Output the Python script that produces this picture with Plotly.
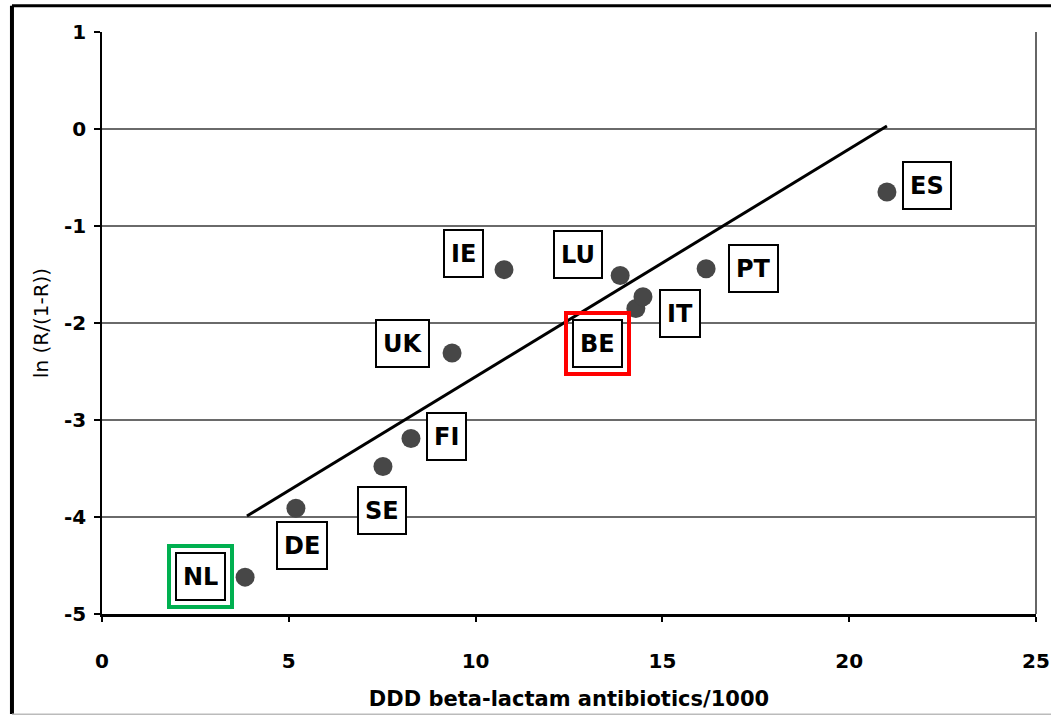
import plotly.graph_objects as go

# ---- data ----
countries = ["NL", "DE", "SE", "FI", "UK", "IE", "LU", "BE", "IT", "PT", "ES"]
ddd = [3.83, 5.19, 7.52, 8.27, 9.37, 10.76, 13.87, 14.29, 14.48, 16.17, 21.01]
logit_r = [-4.62, -3.91, -3.48, -3.19, -2.31, -1.45, -1.51, -1.85, -1.73, -1.44, -0.65]
fit_x = [3.88, 21.01]
fit_y = [-3.99, 0.03]
x_ticks = [0, 5, 10, 15, 20, 25]
y_ticks = [1, 0, -1, -2, -3, -4, -5]

# label offsets (pixels) from each point
label_dx = [-45, 6, -1, 36, -50, -40, -42, -38, 37, 47, 40]
label_dy = [1, -37, -44, 2, 10, 16, 21, -35, -17, 0, 7]
highlight = {"NL": "#00b050", "BE": "#ff0000"}

FONT = "DejaVu Sans"

fig = go.Figure()

fig.add_trace(go.Scatter(
    x=fit_x, y=fit_y, mode="lines",
    line=dict(color="black", width=3), hoverinfo="skip", showlegend=False))

fig.add_trace(go.Scatter(
    x=ddd, y=logit_r, mode="markers",
    marker=dict(color="#474747", size=19, line=dict(width=0)),
    showlegend=False))

for c, x, y, dx, dy in zip(countries, ddd, logit_r, label_dx, label_dy):
    if c in highlight:
        fig.add_annotation(
            x=x, y=y, xref="x", yref="y", showarrow=False,
            xshift=dx, yshift=dy, text=c,
            font=dict(family=FONT, size=24, color="rgba(0,0,0,0)", weight="bold"),
            bgcolor="rgba(0,0,0,0)", bordercolor=highlight[c], borderwidth=4,
            borderpad=12, height=33)
    fig.add_annotation(
        x=x, y=y, xref="x", yref="y", showarrow=False,
        xshift=dx, yshift=dy, text=c,
        font=dict(family=FONT, size=24, color="black", weight="bold"),
        bgcolor="white", bordercolor="black", borderwidth=2,
        borderpad=6, height=33)

# plot right border
fig.add_shape(type="line", xref="paper", yref="paper", x0=1, x1=1, y0=0, y1=1,
              line=dict(color="#666", width=2))
# outer frame
fig.add_shape(type="line", xref="paper", yref="paper", x0=-0.0964, x1=-0.0964,
              y0=-0.172, y1=1.045, line=dict(color="black", width=4))
fig.add_shape(type="line", xref="paper", yref="paper", x0=-0.0964, x1=1.03,
              y0=1.045, y1=1.045, line=dict(color="black", width=3))
fig.add_shape(type="line", xref="paper", yref="paper", x0=-0.0964, x1=1.03,
              y0=-0.1725, y1=-0.1725, line=dict(color="#bbb", width=2))

fig.update_layout(
    width=1051, height=715,
    margin=dict(l=102, r=15, t=32, b=101, autoexpand=False),
    paper_bgcolor="white", plot_bgcolor="white",
    showlegend=False,
    xaxis=dict(
        range=[0, 25], tickvals=x_ticks, ticktext=[str(v) for v in x_ticks],
        showgrid=False, zeroline=False, automargin=False,
        showline=True, linecolor="black", linewidth=2.5,
        ticks="outside", ticklen=5, tickcolor="black", tickwidth=1.5,
        ticklabelstandoff=22,
        tickfont=dict(family=FONT, size=20, color="black", weight="bold"),
        title=dict(text="DDD beta-lactam antibiotics/1000", standoff=20,
                   font=dict(family=FONT, size=21, color="black", weight="bold")),
    ),
    yaxis=dict(
        range=[-5, 1], tickvals=y_ticks, ticktext=[str(v) for v in y_ticks],
        showgrid=True, gridcolor="#6a6a6a", gridwidth=1.5, zeroline=False,
        automargin=False,
        showline=True, linecolor="black", linewidth=1.5,
        ticks="outside", ticklen=6, tickcolor="black", tickwidth=1.5,
        ticklabelstandoff=4,
        tickfont=dict(family=FONT, size=20, color="black", weight="bold"),
        title=dict(text="ln (R/(1-R))", standoff=10,
                   font=dict(family=FONT, size=20, color="black")),
    ),
)

fig.write_html(
    "out.html",
    config={"displayModeBar": False},
    post_script="document.body.style.margin='0';document.body.style.overflow='hidden';",
)
